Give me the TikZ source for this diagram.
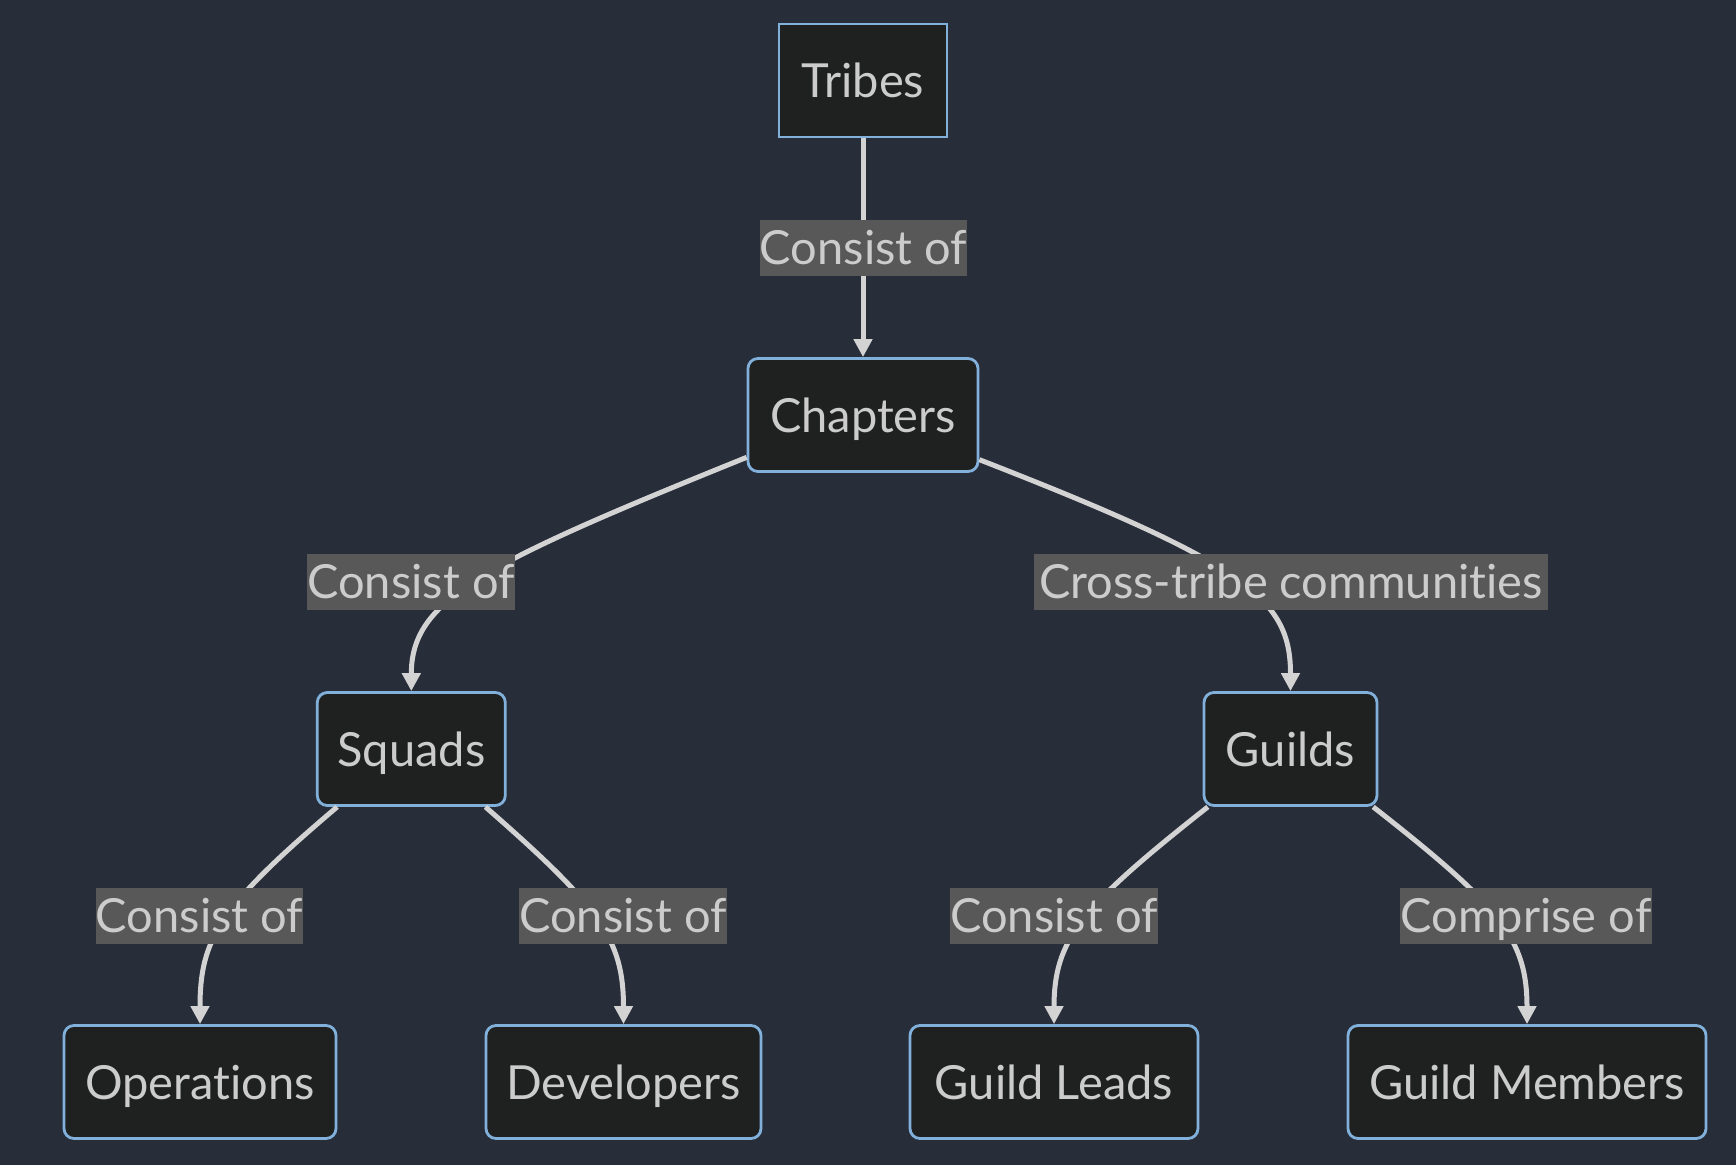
\documentclass[tikz,border=0pt]{standalone}
\usepackage{fontspec}
\setmainfont[Ligatures={NoCommon}]{Lato}
\usetikzlibrary{arrows.meta}
\definecolor{bgcol}{RGB}{40,45,58}
\definecolor{nodefill}{RGB}{31,32,32}
\definecolor{bordercol}{HTML}{81B1DB}
\definecolor{txtcol}{HTML}{CCCCCC}
\definecolor{linecol}{HTML}{D3D3D3}
\definecolor{lblbg}{HTML}{585858}
\begin{document}
\begin{tikzpicture}[x=1pt,y=-1pt,
  box/.style={draw=bordercol, line width=2.8pt, fill=nodefill, rounded corners=10pt,
    minimum height=113pt, inner sep=0pt, text=txtcol,
    font=\fontsize{47}{56}\selectfont, text height=34pt, text depth=0pt},
  sqbox/.style={box, rounded corners=0pt},
  lbl/.style={fill=lblbg, text=txtcol, inner sep=0pt,
    font=\fontsize{47}{56}\selectfont, text height=44.5pt, text depth=11.5pt},
  edge/.style={draw=linecol, line width=5pt},
  arr/.style={edge, -{Triangle[length=18pt,width=18pt]}}
]
\fill[bgcol] (0,0) rectangle (1736,1165);
\useasboundingbox (0,0) rectangle (1736,1165);

% nodes
\node[sqbox, minimum width=168pt] (tribes) at (863,80.5) {Tribes};
\node[box, minimum width=230pt] (chapters) at (863,415) {Chapters};
\node[box, minimum width=188pt] (squads) at (411.3,749) {Squads};
\node[box, minimum width=173pt] (guilds) at (1290.5,749) {Guilds};
\node[box, minimum width=272pt] (ops) at (200,1082) {Operations};
\node[box, minimum width=275pt] (dev) at (623.5,1082) {Developers};
\node[box, minimum width=288pt] (leads) at (1054,1082) {Guild Leads};
\node[box, minimum width=358pt] (members) at (1527,1082) {Guild Members};

% edges
\draw[arr] (tribes.south) -- (chapters.north);
\draw[arr] (chapters.200) .. controls (480,565) and (411.3,600) .. (squads.north);
\draw[arr] (chapters.339) .. controls (1250,565) and (1290.5,600) .. (guilds.north);
\draw[arr] (squads.218) .. controls (219,907) and (200,939) .. (ops.north);
\draw[arr] (squads.322) .. controls (600,907) and (623.5,939) .. (dev.north);
\draw[arr] (guilds.215) .. controls (1081,907) and (1054,939) .. (leads.north);
\draw[arr] (guilds.325) .. controls (1501,907) and (1527,939) .. (members.north);

% labels
\node[lbl, minimum width=207pt] (l1) at (863.5,247.5) {Consist of};
\node[lbl, minimum width=206pt] (l2) at (411,581.5) {Consist of};
\node[lbl, minimum width=514pt] (l3) at (1291,581.5) {Cross-tribe communities};
\node[lbl, minimum width=205pt] (l4) at (199.5,916) {Consist of};
\node[lbl, minimum width=206pt] (l5) at (623,916) {Consist of};
\node[lbl, minimum width=206pt] (l6) at (1054,916) {Consist of};
\node[lbl, minimum width=252pt] (l7) at (1526,916) {Comprise of};
\end{tikzpicture}
\end{document}
